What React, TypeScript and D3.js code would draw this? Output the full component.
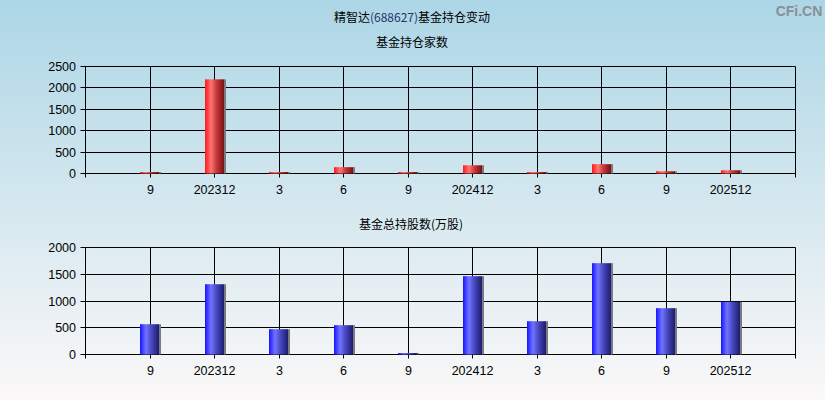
import React from "react";
import * as d3 from "d3";

const categories = ["9", "202312", "3", "6", "9", "202412", "3", "6", "9", "202512"];
const fundCounts = [22, 2200, 20, 148, 20, 192, 20, 218, 52, 76];
const fundShares = [566, 1314, 473, 548, 22, 1464, 622, 1707, 866, 984];
const topTicks = [0, 500, 1000, 1500, 2000, 2500];
const bottomTicks = [0, 500, 1000, 1500, 2000];

const W = 825;
const H = 400;
const FONT_NUM = "'Liberation Sans', Arial, sans-serif";
const FONT_CJK = "'Noto Sans CJK SC', 'Liberation Sans', sans-serif";

const x = d3.scaleLinear().domain([0, categories.length + 1]).range([85.5, 795.5]);

type PanelProps = {
  values: number[];
  ticks: number[];
  top: number;
  bottom: number;
  gradId: string;
};

function Panel({ values, ticks, top, bottom, gradId }: PanelProps) {
  const max = ticks[ticks.length - 1];
  const y = d3.scaleLinear().domain([0, max]).range([bottom, top]);
  const left = x(0);
  const right = x(categories.length + 1);
  const r = (v: number) => Math.round(v - 0.5) + 0.5;
  return (
    <g>
      {/* horizontal grid lines + y ticks */}
      {ticks.map((t) => (
        <g key={"h" + t}>
          <line x1={left - 5} x2={right} y1={r(y(t))} y2={r(y(t))} stroke="#000" strokeWidth={1} />
          <text
            x={76}
            y={r(y(t)) + 4.5}
            textAnchor="end"
            fontFamily={FONT_NUM}
            fontSize={12.5}
            fill="#000"
          >
            {t}
          </text>
        </g>
      ))}
      {/* left axis and right border */}
      <line x1={r(left)} x2={r(left)} y1={r(y(max))} y2={r(y(0)) + 4} stroke="#000" />
      <line x1={r(right)} x2={r(right)} y1={r(y(max))} y2={r(y(0)) + 4} stroke="#000" />
      {/* vertical grid at categories */}
      {categories.map((c, i) => {
        const cx = r(x(i + 1));
        return (
          <g key={"v" + i}>
            <line x1={cx} x2={cx} y1={r(y(max))} y2={r(y(0)) + 4} stroke="#000" />
            <text
              x={cx}
              y={r(y(0)) + 20.5}
              textAnchor="middle"
              fontFamily={FONT_NUM}
              fontSize={12.5}
              fill="#000"
            >
              {c}
            </text>
          </g>
        );
      })}
      {/* bars */}
      {values.map((v, i) => {
        const cx = Math.round(x(i + 1));
        const yt = y(v);
        const y0 = r(y(0));
        const h = Math.max(y0 - yt, 1.5);
        return (
          <g key={"b" + i}>
            <rect x={cx + 9} y={y0 - h} width={2} height={h} fill="#7a7a80" />
            <rect x={cx - 10} y={y0 - h} width={19} height={h} fill={`url(#${gradId})`} />
          </g>
        );
      })}
    </g>
  );
}

export default function App() {
  return (
    <svg width={W} height={H} style={{ position: "absolute", left: 0, top: 0 }}>
      <defs>
        <linearGradient id="bg" x1="0" y1="0" x2="0" y2="1">
          <stop offset="0%" stopColor="#acd6e6" />
          <stop offset="55%" stopColor="#d8e9f0" />
          <stop offset="100%" stopColor="#fbf8f8" />
        </linearGradient>
        <linearGradient id="redGrad" x1="0" y1="0" x2="1" y2="0">
          <stop offset="0%" stopColor="#ff1a1a" />
          <stop offset="12%" stopColor="#ff3a3a" />
          <stop offset="32%" stopColor="#ff7575" />
          <stop offset="60%" stopColor="#c83a3a" />
          <stop offset="100%" stopColor="#781010" />
        </linearGradient>
        <linearGradient id="blueGrad" x1="0" y1="0" x2="1" y2="0">
          <stop offset="0%" stopColor="#1414ff" />
          <stop offset="12%" stopColor="#3a3aff" />
          <stop offset="32%" stopColor="#7272ff" />
          <stop offset="60%" stopColor="#4848c0" />
          <stop offset="100%" stopColor="#1c1c6e" />
        </linearGradient>
      </defs>
      <rect x={0} y={0} width={W} height={H} fill="url(#bg)" />
      <text x={799} y={16} textAnchor="middle" fontFamily={FONT_NUM} fontSize={14} fontWeight="bold" fill="#8a8f94">
        CFi.CN
      </text>
      <text x={412} y={22} textAnchor="middle" fontFamily={FONT_CJK} fontSize={12} fill="#000">
        精智达<tspan fill="#23356a">(688627)</tspan>基金持仓变动
      </text>
      <text x={412} y={47} textAnchor="middle" fontFamily={FONT_CJK} fontSize={12} fill="#000">
        基金持仓家数
      </text>
      <text x={411} y={229} textAnchor="middle" fontFamily={FONT_CJK} fontSize={12} fill="#000">
        基金总持股数(万股)
      </text>
      <Panel values={fundCounts} ticks={topTicks} top={66.5} bottom={173.5} gradId="redGrad" />
      <Panel values={fundShares} ticks={bottomTicks} top={247.5} bottom={354.5} gradId="blueGrad" />
    </svg>
  );
}
